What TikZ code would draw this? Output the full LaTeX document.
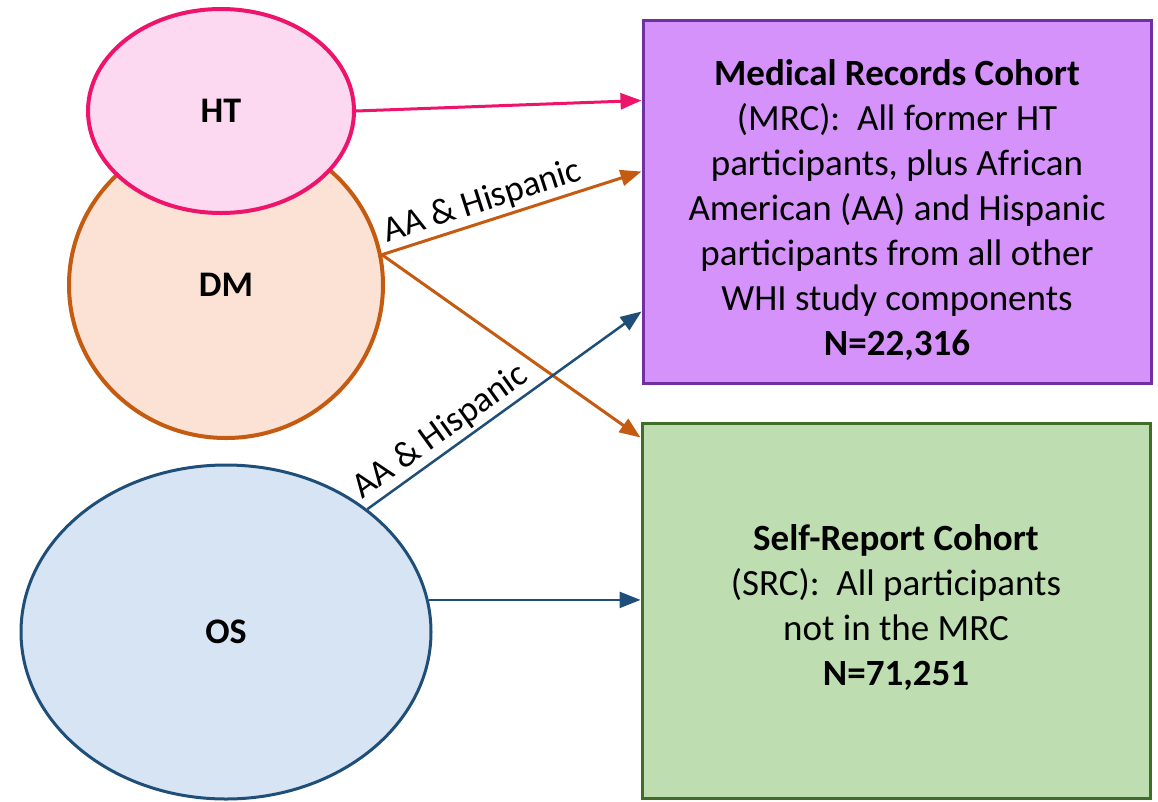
\documentclass[tikz,border=0pt]{standalone}
\usepackage{fontspec}
\setmainfont{Carlito}
\usetikzlibrary{arrows.meta,shapes.geometric}
\definecolor{htline}{RGB}{238,20,108}
\definecolor{htfill}{RGB}{252,217,240}
\definecolor{dmline}{RGB}{197,90,17}
\definecolor{dmfill}{RGB}{251,226,212}
\definecolor{osline}{RGB}{31,78,121}
\definecolor{osfill}{RGB}{214,228,244}
\definecolor{mrcline}{RGB}{112,48,160}
\definecolor{mrcfill}{RGB}{212,146,250}
\definecolor{srcline}{RGB}{64,110,40}
\definecolor{srcfill}{RGB}{190,221,176}

\begin{document}
\begin{tikzpicture}[x=1pt, y=-1pt,
		blob/.style={ellipse, draw, line width=4pt, inner sep=0pt, font=\fontsize{36}{43}\selectfont\bfseries},
		cohort/.style={rectangle, draw, line width=3pt, minimum width=508pt},
		words/.style={align=center, font=\fontsize{37}{45}\selectfont},
		link/.style={line width=3pt, -{Triangle[length=21pt,width=16pt]}},
		tag/.style={sloped, above, inner sep=3pt, text=black, font=\fontsize{36}{42}\selectfont}]
		%%%%% START %%%%%
		\useasboundingbox (0,0) rectangle (1158,801);
		
		\node[blob, draw=dmline, fill=dmfill, minimum width=314pt, minimum height=306pt] (dm) at (226,285) {DM};
		\node[blob, draw=htline, fill=htfill, minimum width=266pt, minimum height=204pt] (ht) at (221,111) {HT};
		\node[blob, draw=osline, fill=osfill, line width=3pt, minimum width=410pt, minimum height=334pt] (os) at (226,632) {OS};
		
		\node[cohort, draw=mrcline, fill=mrcfill, minimum height=363pt] (mrc) at (897,201.5) {};
		\node[words] (mrctext) at ([yshift=-9pt]mrc.center) {\textbf{Medical Records Cohort}\\(MRC):\ \ All former HT\\participants, plus African\\American (AA) and Hispanic\\participants from all other\\WHI study components\\\textbf{N=22,316}};
		\node[cohort, draw=srcline, fill=srcfill, minimum height=375pt] (src) at (896,610.5) {};
		\node[words] (srctext) at ([yshift=3pt]src.center) {\textbf{Self-Report Cohort}\\(SRC):\ \ All participants\\not in the MRC\\\textbf{N=71,251}};
		
		\draw[link, htline] (ht.east) -- ([yshift=-82pt]mrc.north west);
		\draw[link, dmline] (dm.11) -- node[tag, pos=0.41] {AA \& Hispanic} ([yshift=-153pt]mrc.north west);
		\draw[link, dmline] (dm.11) -- ([yshift=-16pt]src.north west);
		\draw[link, osline, line width=2.5pt] (os.41) -- node[tag, pos=0.31] {AA \& Hispanic} ([yshift=-293pt]mrc.north west);
		\draw[link, osline, line width=2.5pt] (os.9) -- (os.9 -| src.west);
		
		%%%%% END %%%%%
\end{tikzpicture}
\end{document}
